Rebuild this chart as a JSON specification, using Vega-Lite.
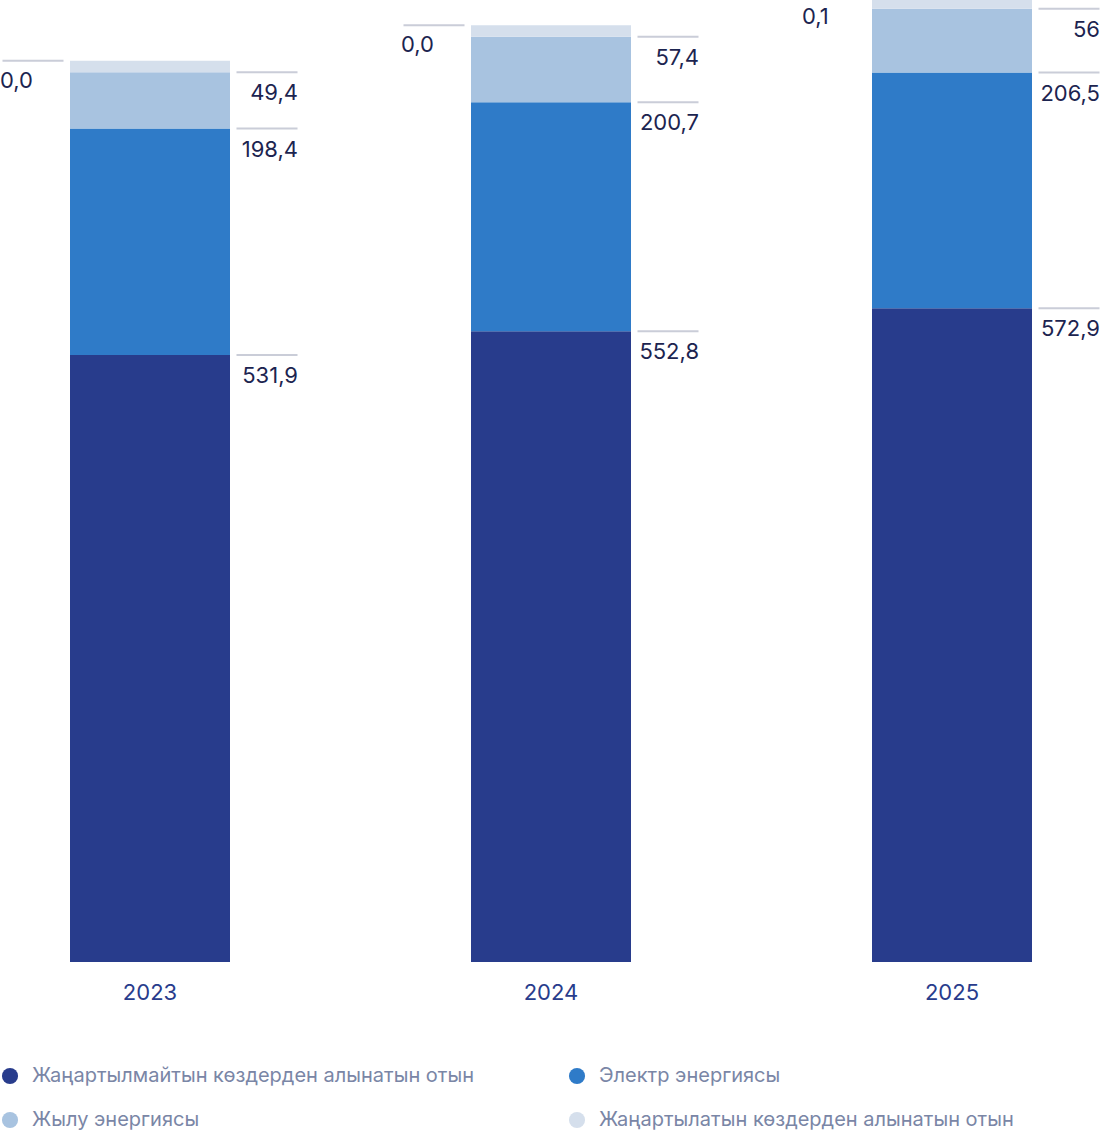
{
"$schema":"https://vega.github.io/schema/vega-lite/v6.json",
"width":1100,"height":962,"autosize":"none","padding":{"left":0,"top":0,"right":0,"bottom":178},
"background":"white",
"config":{"view":{"stroke":null},"font":"Inter"},
"data":{"values":[
{"year":"2023","cat":"Жаңартылмайтын көздерден алынатын отын","rank":1,"v":531.9,"label":"531,9","side":"r"},
{"year":"2023","cat":"Электр энергиясы","rank":2,"v":198.4,"label":"198,4","side":"r"},
{"year":"2023","cat":"Жылу энергиясы","rank":3,"v":49.4,"label":"49,4","side":"r"},
{"year":"2023","cat":"Жаңартылатын көздерден алынатын отын","rank":4,"v":10,"label":"0,0","side":"l"},
{"year":"2024","cat":"Жаңартылмайтын көздерден алынатын отын","rank":1,"v":552.8,"label":"552,8","side":"r"},
{"year":"2024","cat":"Электр энергиясы","rank":2,"v":200.7,"label":"200,7","side":"r"},
{"year":"2024","cat":"Жылу энергиясы","rank":3,"v":57.4,"label":"57,4","side":"r"},
{"year":"2024","cat":"Жаңартылатын көздерден алынатын отын","rank":4,"v":10,"label":"0,0","side":"l"},
{"year":"2025","cat":"Жаңартылмайтын көздерден алынатын отын","rank":1,"v":572.9,"label":"572,9","side":"r"},
{"year":"2025","cat":"Электр энергиясы","rank":2,"v":206.5,"label":"206,5","side":"r"},
{"year":"2025","cat":"Жылу энергиясы","rank":3,"v":56,"label":"56","side":"r"},
{"year":"2025","cat":"Жаңартылатын көздерден алынатын отын","rank":4,"v":10,"label":"0,1","side":"l"}
]},
"transform":[{"stack":"v","groupby":["year"],"sort":[{"field":"rank","order":"ascending"}],"as":["y0","y1"]}],
"encoding":{
"x":{"field":"year","type":"nominal","scale":{"range":[-50.5,1152.5],"paddingInner":0,"paddingOuter":0},
"axis":{"title":null,"domain":false,"ticks":false,"labelAngle":0,"labelFontSize":22,"labelColor":"#283c8c","labelPadding":20}}
},
"layer":[
{"mark":{"type":"bar","width":160},
"encoding":{
"y":{"field":"y1","type":"quantitative","scale":{"domain":[0,843],"nice":false,"zero":true},"axis":null},
"y2":{"field":"y0"},
"color":{"field":"cat","type":"nominal",
"scale":{"domain":["Жаңартылмайтын көздерден алынатын отын","Жылу энергиясы","Электр энергиясы","Жаңартылатын көздерден алынатын отын"],
"range":["#283c8c","#a8c3e0","#2f7bc8","#d5dfec"]},
"legend":{"title":null,"orient":"none","legendX":0,"legendY":1066,"columns":2,"columnPadding":92,"rowPadding":24,
"symbolType":"circle","symbolSize":260,"labelFontSize":20,"labelColor":"#7a86a6","labelLimit":0,"labelOffset":12}}
}},
{"transform":[{"filter":"datum.side=='r'"}],
"mark":{"type":"tick","xOffset":117,"size":61,"thickness":2,"color":"#b4b8c8"},
"encoding":{"y":{"field":"y1","type":"quantitative"}}},
{"transform":[{"filter":"datum.side=='l'"}],
"mark":{"type":"tick","xOffset":-117,"size":61,"thickness":2,"color":"#b4b8c8"},
"encoding":{"y":{"field":"y1","type":"quantitative"}}},
{"transform":[{"filter":"datum.side=='r'"}],
"mark":{"type":"text","align":"right","baseline":"middle","dx":148,"dy":21,"fontSize":22,"color":"#1c2450"},
"encoding":{"y":{"field":"y1","type":"quantitative"},"text":{"field":"label"}}},
{"transform":[{"filter":"datum.side=='l'"}],
"mark":{"type":"text","align":"left","baseline":"middle","dx":-150,"dy":20,"fontSize":22,"color":"#1c2450"},
"encoding":{"y":{"field":"y1","type":"quantitative"},"text":{"field":"label"}}}
]
}
